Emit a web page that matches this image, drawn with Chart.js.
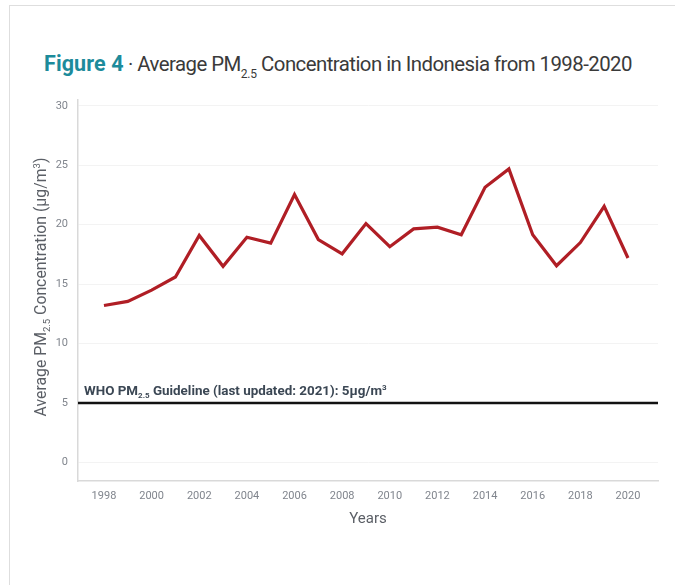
<!DOCTYPE html>
<html>
<head>
<meta charset="utf-8">
<script src="https://cdn.jsdelivr.net/npm/chart.js@4.4.0/dist/chart.umd.min.js"></script>
<style>
  html, body { margin: 0; padding: 0; background: #fff; }
  #wrap { position: relative; width: 675px; height: 585px; overflow: hidden; }
  #frame { position: absolute; left: 9px; top: 5px; width: 700px; height: 620px; border: 1px solid #dedede; }
  #title { position: absolute; left: 44px; top: 51px; white-space: nowrap;
           font-family: Roboto, "Liberation Sans", sans-serif; font-size: 20.4px; color: #3a3a3a; letter-spacing: -0.55px; }
  #title b { color: #1d8b9b; font-weight: 700; letter-spacing: 0.1px; font-size: 21.5px; }
  #title sub { font-size: 12px; vertical-align: -7px; letter-spacing: -0.3px; }
  #chartjs1 { position: absolute; left: 0; top: 0; }
</style>
</head>
<body>
<div id="wrap">
  <div id="frame"></div>
  <div id="title"><b>Figure 4</b> · Average PM<sub>2.5</sub> Concentration in Indonesia from 1998-2020</div>
  <canvas id="chartjs1" width="675" height="585"></canvas>
</div>
<script>
// data
var years = [1998, 1999, 2000, 2001, 2002, 2003, 2004, 2005, 2006, 2007, 2008, 2009,
             2010, 2011, 2012, 2013, 2014, 2015, 2016, 2017, 2018, 2019, 2020];
var pm25 = [13.2, 13.55, 14.5, 15.6, 19.1, 16.5, 18.95, 18.45, 22.55, 18.75, 17.55, 20.1,
            18.15, 19.65, 19.8, 19.15, 23.15, 24.7, 19.15, 16.55, 18.5, 21.55, 17.2];
var guideline = 5;
var yTicks = [0, 5, 10, 15, 20, 25, 30];

// draw text made of pieces (for sub/superscripts)
function drawParts(ctx, parts, x, y) {
	parts.forEach(function(p) {
		ctx.font = p.font;
		ctx.fillText(p.text, x, y + (p.dy || 0));
		x += ctx.measureText(p.text).width;
	});
	return x;
}
function partsWidth(ctx, parts) {
	var w = 0;
	parts.forEach(function(p) { ctx.font = p.font; w += ctx.measureText(p.text).width; });
	return w;
}

var FONT = 'Roboto, "Liberation Sans", sans-serif';

var extraText = {
	id: 'extraText',
	afterDraw: function(chart) {
		var ctx = chart.ctx;
		var y = chart.scales.y;
		var area = chart.chartArea;
		ctx.save();
		// guideline
		var gy = y.getPixelForValue(guideline);
		ctx.strokeStyle = '#111';
		ctx.lineWidth = 2.5;
		ctx.beginPath();
		ctx.moveTo(area.left, gy);
		ctx.lineTo(area.right, gy);
		ctx.stroke();
		ctx.fillStyle = '#3b4754';
		ctx.textBaseline = 'alphabetic';
		drawParts(ctx, [
			{text: 'WHO PM', font: 'bold 13.4px ' + FONT},
			{text: '2.5', font: 'bold 8px ' + FONT, dy: 3},
			{text: ' Guideline (last updated: 2021): 5µg/m', font: 'bold 13.4px ' + FONT},
			{text: '3', font: 'bold 8px ' + FONT, dy: -5}
		], area.left + 6, gy - 8);

		// y axis title
		var parts = [
			{text: 'Average PM', font: '15.8px ' + FONT},
			{text: '2.5', font: '9.5px ' + FONT, dy: 4},
			{text: ' Concentration (µg/m', font: '15.8px ' + FONT},
			{text: '3', font: '9.5px ' + FONT, dy: -6},
			{text: ')', font: '15.8px ' + FONT}
		];
		ctx.fillStyle = '#5b5f66';
		ctx.translate(46, 287);
		ctx.rotate(-Math.PI / 2);
		drawParts(ctx, parts, -partsWidth(ctx, parts) / 2, 0);
		ctx.restore();
	}
};

var pts = years.map(function(yr, i) { return {x: yr, y: pm25[i]}; });

var myChart = new Chart(document.getElementById('chartjs1'), {
	type: 'line',
	data: {
		datasets: [{
			label: 'PM2.5',
			data: pts,
			borderColor: '#b01e25',
			borderWidth: 3.2,
			pointRadius: 0,
			tension: 0,
			fill: false
		}]
	},
	options: {
		responsive: false,
		animation: false,
		layout: { padding: { left: 0, top: 100, right: 17, bottom: 53 } },
		plugins: { legend: { display: false }, tooltip: { enabled: false } },
		scales: {
			x: {
				type: 'linear',
				min: 1996.91,
				max: 2021.26,
				afterFit: function(s) { s.height = 51; },
				afterBuildTicks: function(s) { s.ticks = years.filter(function(v) { return v % 2 == 0; }).map(function(v) { return {value: v}; }); },
				grid: { display: false, drawTicks: false },
				border: { color: '#d9d9d9', width: 1.5 },
				ticks: { padding: 9, color: '#80858d', font: { family: FONT, size: 11 }, callback: function(v) { return String(v); }, maxRotation: 0, autoSkip: false },
				title: { display: true, text: 'Years', color: '#5b5f66', font: { family: FONT, size: 15 }, padding: { top: 7 } }
			},
			y: {
				min: -1.57,
				max: 30.5,
				afterFit: function(s) { s.width = 78; },
				afterBuildTicks: function(s) { s.ticks = yTicks.map(function(v) { return {value: v}; }); },
				grid: { color: '#f3f3f3', drawTicks: false },
				border: { color: '#d9d9d9', width: 1.5 },
				ticks: { padding: 10, color: '#80858d', font: { family: FONT, size: 11 } }
			}
		}
	},
	plugins: [extraText]
});
</script>
</body>
</html>
